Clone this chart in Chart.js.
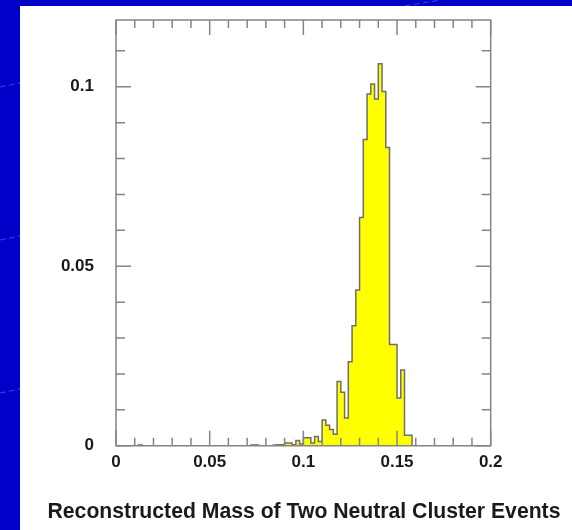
<!DOCTYPE html>
<html>
<head>
<meta charset="utf-8">
<script src="https://cdn.jsdelivr.net/npm/chart.js@4.4.1/dist/chart.umd.min.js"></script>
<style>
  html, body { margin: 0; padding: 0; }
  body { width: 572px; height: 530px; background: #0000c8; position: relative; overflow: hidden; }
  #deco { position: absolute; left: 0; top: 0; }
  #panel { position: absolute; left: 20px; top: 6px; width: 552px; height: 524px; background: #fff; }
</style>
</head>
<body>
<svg id="deco" width="572" height="530">
  <g stroke="#5a5aff" stroke-width="1" stroke-dasharray="6 3" opacity="0.7">
    <line x1="0" y1="87" x2="20" y2="83"/>
    <line x1="0" y1="240" x2="20" y2="236"/>
    <line x1="0" y1="393" x2="20" y2="389"/>
    <line x1="405" y1="6" x2="440" y2="0"/>
  </g>
</svg>
<div id="panel"><canvas id="massChart"></canvas></div>
<script>
// histogram: 100 bins of 0.002 from 0 to 0.2
const binWidth = 0.002;
const counts = [
    0, 0, 0, 0, 0, 0, 0, 0.0002, 0, 0,
    0, 0, 0, 0, 0, 0, 0, 0, 0, 0,
    0, 0, 0, 0, 0, 0, 0, 0, 0, 0,
    0, 0, 0, 0, 0, 0, 0, 0.0002, 0.0002, 0,
    0, 0, 0, 0.0002, 0.0003, 0.0003, 0.0008, 0.0008, 0.0003, 0.0015,
    0.0005, 0.0022, 0.0022, 0.0008, 0.0026, 0.0012, 0.0072, 0.0057, 0.0045, 0.0032,
    0.0179, 0.0149, 0.0077, 0.0234, 0.0334, 0.0434, 0.0636, 0.0853, 0.098, 0.1008,
    0.0966, 0.1064, 0.0987, 0.0831, 0.0282, 0.0282, 0.0133, 0.0211, 0.0029, 0.0029,
    0, 0, 0, 0, 0, 0, 0, 0, 0, 0,
    0, 0, 0, 0, 0, 0, 0, 0, 0, 0
];
const xTickLabels = ["0", "0.05", "0.1", "0.15", "0.2"];
const yTickLabels = ["0", "0.05", "0.1"];
const chartTitle = "Reconstructed Mass of Two Neutral Cluster Events";

function labelFor(labels, v) {
    const hit = labels.find(l => Math.abs(Number(l) - v) < 1e-9);
    return hit === undefined ? "" : hit;
}

const points = counts.map((c, i) => ({ x: i * binWidth, y: c }));
points.push({ x: counts.length * binWidth, y: 0 });

// ticks drawn inward on all four sides + frame
const frameTicks = {
    id: "frameTicks",
    afterDatasetsDraw(chart) {
        const { ctx, chartArea: a, scales } = chart;
        ctx.save();
        ctx.strokeStyle = "#858585";
        ctx.lineWidth = 1.5;
        ctx.beginPath();
        scales.x.ticks.forEach(t => {
            const px = scales.x.getPixelForValue(t.value);
            const len = t.label ? 15 : 8;
            ctx.moveTo(px, a.bottom); ctx.lineTo(px, a.bottom - len);
            ctx.moveTo(px, a.top); ctx.lineTo(px, a.top + len);
        });
        scales.y.ticks.forEach(t => {
            const py = scales.y.getPixelForValue(t.value);
            const len = t.label ? 15 : 9;
            ctx.moveTo(a.left, py); ctx.lineTo(a.left + len, py);
            ctx.moveTo(a.right, py); ctx.lineTo(a.right - len, py);
        });
        ctx.stroke();
        ctx.strokeRect(a.left, a.top, a.width, a.height);
        ctx.restore();
    }
};

const tickFont = { family: "'Liberation Sans', Arial, sans-serif", size: 17, weight: "bold" };

new Chart(document.getElementById("massChart"), {
    type: "line",
    data: {
        datasets: [{
            data: points,
            stepped: "after",
            fill: "origin",
            backgroundColor: "#ffff00",
            borderColor: "#6e6e6e",
            borderWidth: 1.5,
            pointRadius: 0
        }]
    },
    options: {
        responsive: true,
        maintainAspectRatio: false,
        animation: false,
        layout: { padding: { left: 16, top: 14, right: 0, bottom: 0 } },
        plugins: {
            legend: { display: false },
            tooltip: { enabled: false },
            title: {
                display: true,
                text: chartTitle,
                position: "bottom",
                color: "#1a1a1a",
                font: { family: "'Liberation Sans', Arial, sans-serif", size: 21.2, weight: "bold" },
                padding: { top: 13.8, bottom: 5 }
            }
        },
        scales: {
            x: {
                type: "linear",
                min: 0,
                max: 0.2,
                grid: { display: false, drawTicks: false },
                border: { display: false },
                afterFit: s => { s.height = 40; s.paddingLeft = 0; s.paddingRight = 0; },
                ticks: {
                    stepSize: 0.01,
                    autoSkip: false,
                    maxRotation: 0,
                    padding: 6,
                    color: "#1a1a1a",
                    font: tickFont,
                    callback: v => labelFor(xTickLabels, v)
                }
            },
            y: {
                min: 0,
                max: 0.1186,
                grid: { display: false, drawTicks: false },
                border: { display: false },
                afterFit: s => { s.width = 80; s.paddingTop = 0; s.paddingBottom = 0; },
                ticks: {
                    stepSize: 0.01,
                    includeBounds: false,
                    autoSkip: false,
                    padding: 22,
                    color: "#1a1a1a",
                    font: tickFont,
                    callback: v => labelFor(yTickLabels, v)
                }
            },
            y2: {
                position: "right",
                grid: { display: false, drawTicks: false },
                border: { display: false },
                ticks: { display: false },
                afterFit: s => { s.width = 81.3; s.paddingTop = 0; s.paddingBottom = 0; }
            }
        }
    },
    plugins: [frameTicks]
});
</script>
</body>
</html>
